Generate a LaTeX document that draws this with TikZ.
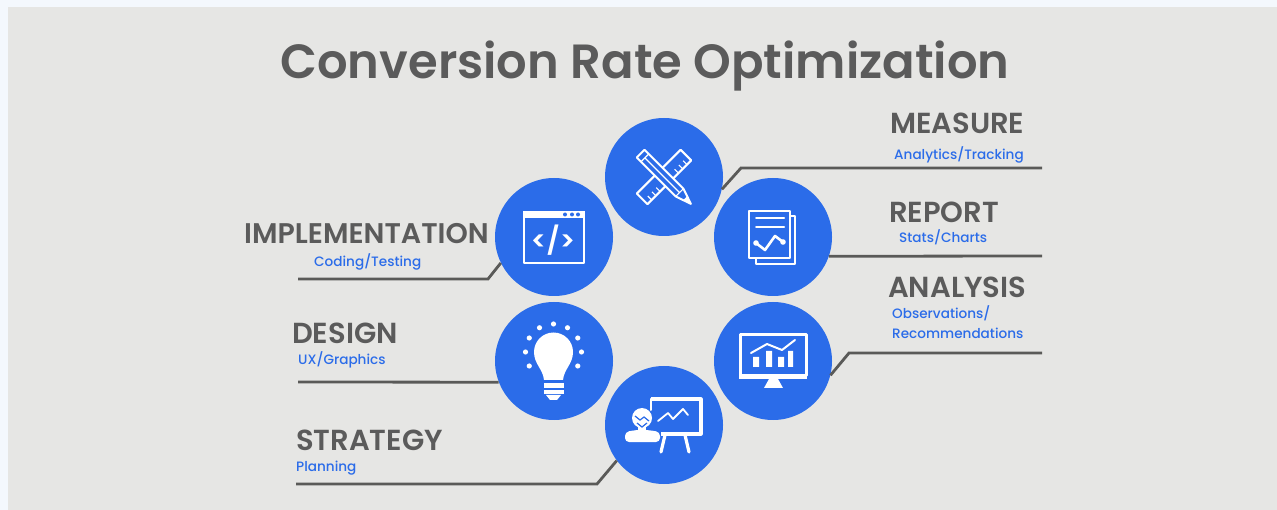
\documentclass[tikz,border=0pt]{standalone}
\usepackage{fontspec}
\setmainfont{Poppins Medium}
\newfontfamily\headfont{Poppins SemiBold}
\usetikzlibrary{calc}
\definecolor{paneBg}{HTML}{E6E6E4}
\definecolor{pageBg}{HTML}{F4F8FD}
\definecolor{discBlue}{HTML}{2B6CE9}
\definecolor{greyText}{HTML}{5B5B5B}
\definecolor{greyLine}{HTML}{5A5A58}
\newcommand{\fsize}[1]{\fontsize{#1}{#1}\selectfont}
\tikzset{
	disc/.style={circle,fill=discBlue,minimum size=118pt,inner sep=0pt},
	leader/.style={draw=greyLine,line width=2.8pt,line join=miter},
	head/.style={anchor=base west,inner sep=0pt,text=greyText,font=\headfont\fsize{29}},
	sub/.style={anchor=base west,inner sep=0pt,text=discBlue,font=\fsize{13.6}},
	iconline/.style={draw=white,line width=2.6pt,line join=round,line cap=round},
	iconthin/.style={draw=white,line width=1.6pt}
}
\begin{document}
\begin{tikzpicture}[x=1pt,y=-1pt]
	\useasboundingbox (0,0) rectangle (1277,510);
	\fill [pageBg] (0,0) rectangle (1277,510);
	\fill [paneBg] (8,7) rectangle (1277,510);
	\node (title) [inner sep=0pt,anchor=base,text=greyText,font=\headfont\fsize{48}] at (645,79) {Conversion Rate Optimization};
	% discs
	\node (measureDisc) [disc] at (664,177) {};
	\node (implDisc) [disc] at (554,237) {};
	\node (reportDisc) [disc] at (773,237) {};
	\node (designDisc) [disc] at (554,361) {};
	\node (analysisDisc) [disc] at (773,361) {};
	\node (strategyDisc) [disc] at (664,425) {};
	% labels
	\node (measureHead) [head] at (890,134) {MEASURE};
	\node (measureSub) [sub] at (894,160) {Analytics/Tracking};
	\node (reportHead) [head] at (889,223) {REPORT};
	\node (reportSub) [sub] at (899,243) {Stats/Charts};
	\node (analysisHead) [head] at (888,298) {ANALYSIS};
	\node (analysisSubA) [sub] at (892,319) {Observations/};
	\node (analysisSubB) [sub] at (892,339) {Recommendations};
	\node (implHead) [head,font=\headfont\fsize{28.4}] at (244,244) {IMPLEMENTATION};
	\node (implSub) [sub] at (314,267) {Coding/Testing};
	\node (designHead) [head] at (292,344) {DESIGN};
	\node (designSub) [sub] at (298,365) {UX/Graphics};
	\node (strategyHead) [head] at (296,450) {STRATEGY};
	\node (strategySub) [sub] at (296,471) {Planning};
	% leader lines
	\coordinate (measureBend) at (741,168);
	\coordinate (measureEnd) at (1042,168);
	\coordinate (reportEnd) at (1042,256);
	\coordinate (analysisBend) at (849,353);
	\coordinate (analysisEnd) at (1042,353);
	\coordinate (implBend) at (488,279);
	\coordinate (implEnd) at (298,279);
	\coordinate (designEnd) at (298,382);
	\coordinate (strategyBend) at (597,484);
	\coordinate (strategyEnd) at (296,484);
	\draw [leader] (measureDisc.-12) -- (measureBend) -- (measureEnd);
	\draw [leader] (reportDisc.-19) -- (reportEnd);
	\draw [leader] (analysisDisc.-14) -- (analysisBend) -- (analysisEnd);
	\draw [leader] (implDisc.206) -- (implBend) -- (implEnd);
	\draw [leader] (designDisc.201) -- (designEnd);
	\draw [leader] (strategyDisc.217) -- (strategyBend) -- (strategyEnd);
	% pencil and ruler
	\begin{scope}[shift={(measureDisc.center)},rotate=45]
		\draw [iconline,line width=2pt,line cap=butt] (-31,-7.5) rectangle (31,7.5);
		\foreach \t in {-25,-19,-13,13,19,25} \draw [iconthin,line width=1.2pt] (\t,7.5) -- (\t,2);
	\end{scope}
	\begin{scope}[shift={(measureDisc.center)},rotate=-45]
		\draw [iconline,line width=2pt,fill=discBlue] (-33,-5.5) -- (22,-5.5) -- (38,0) -- (22,5.5) -- (-33,5.5) -- cycle;
		\draw [iconthin,line width=1.2pt] (-27,-5.5) -- (-27,5.5) (22,-5.5) -- (22,5.5) (-27,0) -- (22,0);
		\fill [white] (30,-3) -- (38,0) -- (30,3) -- cycle;
	\end{scope}
	% code window
	\begin{scope}[shift={(implDisc.center)}]
		\draw [iconline] (-30,-25) rectangle (30,26);
		\fill [white] (-31,-26) rectangle (31,-19);
		\foreach \d in {11,18,24} \fill [discBlue] (\d,-22.5) circle (2pt);
		\node (implCode) [inner sep=0pt,text=white,font=\headfont\fsize{27}] at (-1,3) {</>};
	\end{scope}
	% report pages
	\begin{scope}[shift={(reportDisc.center)}]
		\draw [iconline,line cap=butt] (-24,-26) rectangle (17,21);
		\draw [iconline,line width=2.2pt,line cap=butt] (17,-21) -- (22,-21) -- (22,27) -- (-17,27) -- (-17,21);
		\draw [iconline,line width=2pt] (-17,-19) -- (11,-19) (-17,-10) -- (11,-10);
		\draw [iconline] (-17,6) -- (-8,13) -- (2,-1) -- (10,5);
		\fill [white] (-17,6) circle (2.8pt) (10,5) circle (2.8pt);
	\end{scope}
	% light bulb
	\begin{scope}[shift={(designDisc.center)}]
		\fill [white] (-10,19) .. controls (-11,8) and (-20,3) .. (-20,-9) arc [start angle=180,end angle=360,radius=19.5] .. controls (19,3) and (10,8) .. (9,19) -- cycle;
		\fill [white] (-10.5,22) rectangle (9.5,27);
		\fill [white] (-10.5,29) rectangle (9.5,33);
		\fill [white] (-8,34) -- (7,34) -- (3,39) -- (-4,39) -- cycle;
		\foreach \a in {-30,0,...,210} \fill [white] ($(-0.5,-9)+(\a:28pt)$) circle (2.6pt);
	\end{scope}
	% monitor
	\begin{scope}[shift={(analysisDisc.center)}]
		\draw [iconline,line width=3pt,line cap=butt] (-33,-26) rectangle (33,15);
		\fill [white] (-34,13) rectangle (34,18);
		\fill [white] (-4,18) -- (5,18) -- (10,27) -- (-9,27) -- cycle;
		\fill [white] (-20,-4) rectangle (-14,6) (-7,-10) rectangle (-1,6) (5,-4) rectangle (11,6) (15,-10) rectangle (20,6);
		\draw [iconline,line width=2pt] (-22,-8) -- (-6,-17) -- (9,-11) -- (22,-21);
	\end{scope}
	% presenter
	\begin{scope}[shift={(strategyDisc.center)}]
		\draw [iconline,line width=3.2pt,line cap=butt] (-13,-26) -- (37,-26) -- (37,9) -- (-3,9);
		\draw [iconline,line width=2pt] (-13,-26) -- (-13,-15);
		\draw [iconline,line width=3.2pt] (1,10) -- (-3,27) (21,10) -- (25,27);
		\draw [iconline,line width=1.8pt] (-6,-4) -- (4,-12) -- (9,-6) -- (19,-16) -- (24,-10);
		\fill [white] (-22,-7) circle (10pt);
		\fill [white] (-26,0) rectangle (-18,8);
		\fill [white,rounded corners=4pt] (-39,17) -- (-39,7) -- (-28,5) -- (-16,5) -- (-4,7) -- (-4,17) -- cycle;
		\draw [draw=discBlue,line width=1.2pt] (-29,-9) -- (-24,-5) -- (-20,-8) -- (-15,-4) (-27,-2) -- (-22,2) -- (-17,-2);
	\end{scope}
\end{tikzpicture}
\end{document}
